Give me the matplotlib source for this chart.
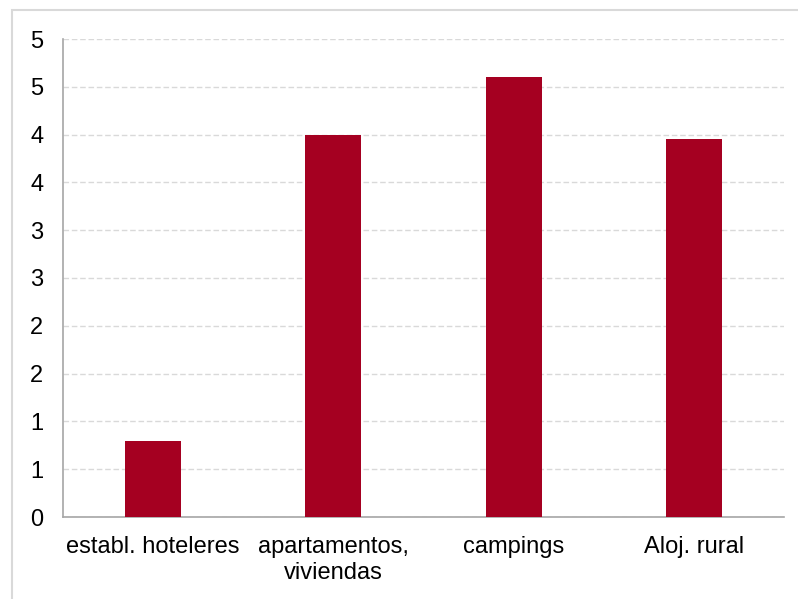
import matplotlib
matplotlib.use("Agg")
import matplotlib.pyplot as plt
import numpy as np
from matplotlib.patches import Rectangle

categories = ["establ. hoteleres", "apartamentos,\nviviendas", "campings", "Aloj. rural"]
values = [0.8, 4.0, 4.6, 3.95]
yticks = [0, 0.5, 1.0, 1.5, 2.0, 2.5, 3.0, 3.5, 4.0, 4.5, 5.0]
ytick_labels = [str(int(np.floor(v + 0.5))) for v in yticks]

plt.rcParams['font.family'] = ['Liberation Sans', 'DejaVu Sans']

W, H = 798, 599
fig = plt.figure(figsize=(W / 100, H / 100), dpi=100)
ax = fig.add_axes([62.7 / W, 1 - 517 / H, (784.3 - 62.7) / W, (517 - 39) / H])

x = np.arange(len(categories))
ax.bar(x, values, width=0.312, color="#A50021", zorder=3)
ax.set_xlim(-0.5, len(categories) - 0.5)
ax.set_ylim(0, 5)
ax.set_yticks(yticks)
ax.set_yticklabels(ytick_labels)
ax.set_xticks(x)
ax.set_xticklabels(categories, linespacing=1.2)
ax.yaxis.grid(True, color="#D9D9D9", linestyle=(0, (4, 2)), linewidth=1.0, zorder=0)
ax.xaxis.grid(False)
for s in ["top", "right"]:
    ax.spines[s].set_visible(False)
for s in ["left", "bottom"]:
    ax.spines[s].set_color("#A6A6A6")
    ax.spines[s].set_linewidth(1.2)
ax.tick_params(axis="both", length=0, labelsize=17, colors="#000000")
ax.tick_params(axis="y", pad=14)
ax.tick_params(axis="x", pad=14)

fig.patches.append(Rectangle((12 / W, -0.1), 1.2, (1 - 10 / H) + 0.1, transform=fig.transFigure,
                             fill=False, edgecolor="#D9D9D9", linewidth=1.5))

fig.savefig("out.png", dpi=100)
